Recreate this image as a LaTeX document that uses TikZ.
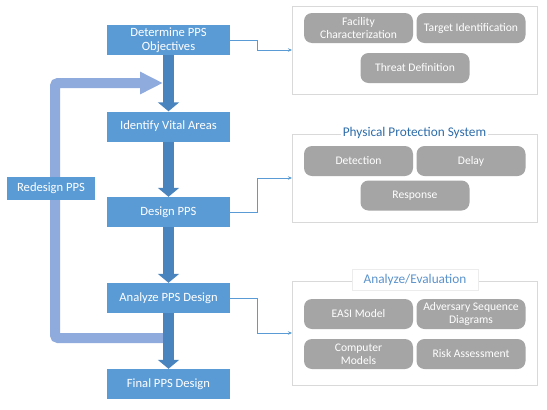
\documentclass[tikz,border=0pt]{standalone}
\usepackage{fontspec}
\setmainfont{Carlito}
\usetikzlibrary{arrows.meta}
\definecolor{bluebox}{HTML}{5B9BD5}
\definecolor{darkarrow}{HTML}{4A84BF}
\definecolor{fbcol}{HTML}{8FAADC}
\definecolor{graybox}{HTML}{A5A5A5}
\definecolor{frame}{HTML}{D9D9D9}
\definecolor{titleblue}{HTML}{2E6DAA}
\definecolor{titleblue2}{HTML}{5B93CC}
\tikzset{
  stepbox/.style={fill=bluebox, text=white, minimum width=123pt, minimum height=30pt, inner sep=1pt, align=center, font=\fontsize{12.6}{14}\selectfont},
  item/.style={fill=graybox, text=white, rounded corners=8pt, minimum width=109pt, minimum height=30pt, inner sep=1pt, align=center, font=\fontsize{11.6}{12.8}\selectfont},
  group/.style={draw=frame, line width=0.8pt, fill=white},
  bigarrow/.style={darkarrow, line width=11pt, -{Triangle[width=21pt,length=9pt]}},
  thin/.style={bluebox, line width=0.7pt, -{Stealth[length=4pt,width=3.5pt]}},
}
\begin{document}
\begin{tikzpicture}[x=1pt,y=-1pt]
\useasboundingbox (0,0) rectangle (547,410);
% right groups
\node[group, minimum width=245pt, minimum height=88pt, anchor=north west] (g1) at (292,6) {};
\node[group, minimum width=245pt, minimum height=88pt, anchor=north west] (g2) at (292,134) {};
\node[group, minimum width=245pt, minimum height=104pt, anchor=north west] (g3) at (292,281) {};
\node[fill=white, inner sep=2pt, text=titleblue, font=\fontsize{13.3}{14.5}\selectfont] (t2) at (414.5,133) {Physical Protection System};
\node[fill=white, draw=frame!50, line width=0.5pt, minimum width=126pt, minimum height=21pt, inner sep=1pt, text=titleblue2, font=\fontsize{13.3}{14.5}\selectfont] (t3) at (415,279.5) {Analyze/Evaluation};
% items
\node[item] (fc) at (358.5,28) {Facility\\Characterization};
\node[item] (ti) at (471,28) {Target Identification};
\node[item] (td) at (415,68) {Threat Definition};
\node[item] (de) at (358.5,161) {Detection};
\node[item] (dl) at (471,161) {Delay};
\node[item] (re) at (415,195.5) {Response};
\node[item] (ea) at (358.5,314) {EASI Model};
\node[item] (as) at (471,314) {Adversary Sequence\\Diagrams};
\node[item] (cm) at (358.5,354) {Computer\\Models};
\node[item] (ra) at (471,354) {Risk Assessment};
% feedback loop
\coordinate (fbs) at (168.5,338);
\coordinate (fbe) at (163,83);
\draw[fbcol, line width=10pt, rounded corners=3pt, -{Triangle[width=21pt,length=23pt]}] (fbs) -- (55,338) -- (55,83) -- (fbe);
\node[fill=bluebox, text=white, minimum width=88pt, minimum height=23pt, inner sep=1pt, font=\fontsize{12.6}{14}\selectfont] (rd) at (51,188) {Redesign PPS};
% steps
\node[stepbox] (s1) at (168.5,40) {Determine PPS\\Objectives};
\node[stepbox] (s2) at (168.5,126.5) {Identify Vital Areas};
\node[stepbox] (s3) at (168.5,212) {Design PPS};
\node[stepbox] (s4) at (168.5,298) {Analyze PPS Design};
\node[stepbox] (s5) at (168.5,384) {Final PPS Design};
\draw[bigarrow] (s1) -- (s2);
\draw[bigarrow] (s2) -- (s3);
\draw[bigarrow] (s3) -- (s4);
\draw[bigarrow] (s4) -- (s5);
% thin connectors
\draw[thin] (s1.east) -- (257,40) |- (g1.west |- 0,50);
\draw[thin] (s3.east) -- (257,212) |- (g2.west |- 0,178);
\draw[thin] (s4.east) -- (257,298) |- (g3.west |- 0,333);
\end{tikzpicture}
\end{document}
